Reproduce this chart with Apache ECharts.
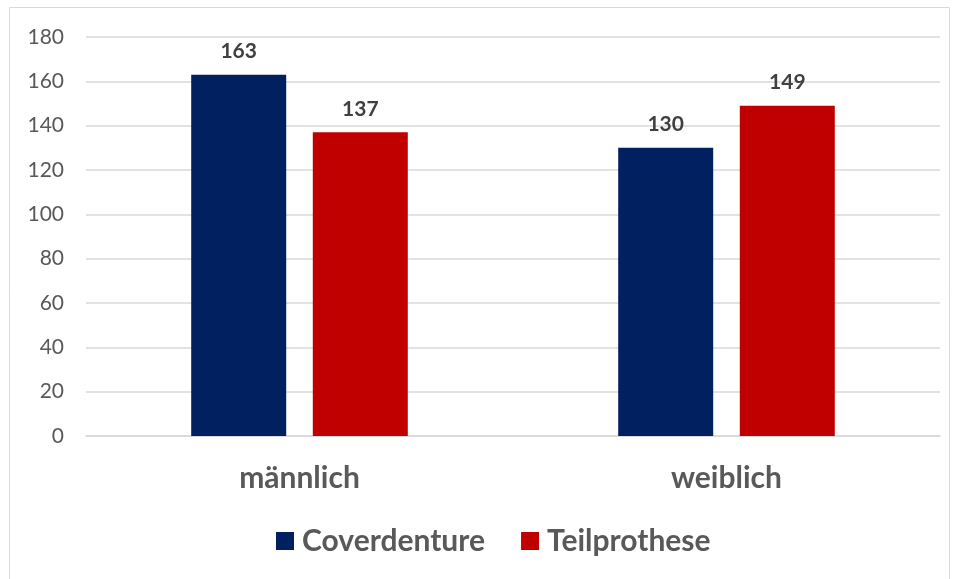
<!DOCTYPE html>
<html><head><meta charset="utf-8">
<script src="https://cdn.jsdelivr.net/npm/echarts@6/dist/echarts.min.js"></script>
<style>html,body{margin:0;padding:0;background:#fff}#c{width:958px;height:579px}</style>
</head><body><div id="c"></div>
<script>
const categories = ['männlich', 'weiblich'];
const coverdenture = [163, 130];
const teilprothese = [137, 149];
const yTicks = { min: 0, max: 180, interval: 20 };

const chart = echarts.init(document.getElementById('c'), null, { renderer: 'canvas' });
const font = 'Lato, "Open Sans", sans-serif';
const labelStyle = { show: true, position: 'top', distance: 13, fontFamily: font, fontWeight: 'bold', fontSize: 21, color: '#404040' };
chart.setOption({
  animation: false,
  graphic: [{ type: 'rect', shape: { x: 9.5, y: 7.5, width: 940, height: 590 }, style: { fill: 'none', stroke: '#d9d9d9', lineWidth: 1 }, z: -1 }],
  grid: { left: 86, right: 18, top: 37, bottom: 143, containLabel: false },
  legend: {
    bottom: 18, left: 271, itemWidth: 18, itemHeight: 18, itemGap: 36,
    icon: 'rect',
    textStyle: { fontFamily: font, fontWeight: 'bold', fontSize: 30, color: '#595959', padding: [0, 0, 0, 3] },
    data: ['Coverdenture', 'Teilprothese']
  },
  xAxis: {
    type: 'category', data: categories,
    axisLine: { show: true, lineStyle: { color: '#d9d9d9', width: 1.5 } },
    axisTick: { show: false },
    axisLabel: { margin: 27, fontFamily: font, fontWeight: 'bold', fontSize: 30, color: '#595959' }
  },
  yAxis: {
    type: 'value', min: yTicks.min, max: yTicks.max, interval: yTicks.interval,
    axisLine: { show: false }, axisTick: { show: false },
    splitLine: { lineStyle: { color: '#d9d9d9', width: 1.5 } },
    axisLabel: { margin: 22, fontFamily: font, fontSize: 21, color: '#595959' }
  },
  series: [
    { name: 'Coverdenture', type: 'bar', data: coverdenture, barWidth: 95, barGap: '28%', itemStyle: { color: '#002060' }, label: labelStyle },
    { name: 'Teilprothese', type: 'bar', data: teilprothese, barWidth: 95, itemStyle: { color: '#C00000' }, label: labelStyle }
  ]
});
</script></body></html>
